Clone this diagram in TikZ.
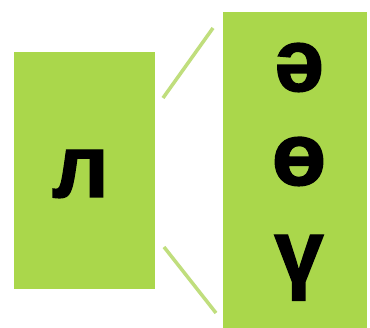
\documentclass[tikz,border=0pt]{standalone}
\usepackage{fontspec}
\setmainfont{Liberation Sans}
\newfontfamily\cardfont{Liberation Sans Bold}[FakeBold=1.6]
\definecolor{cardgreen}{RGB}{170,215,75}
\definecolor{linegreen}{RGB}{192,222,125}

\begin{document}
\begin{tikzpicture}[x=1pt,y=-1pt,
  card/.style={fill=cardgreen, inner sep=0pt, anchor=north west},
  letter/.style={font=\cardfont\fontsize{89}{89}\selectfont, inner sep=0pt, anchor=base},
  link/.style={draw=linegreen, line width=3.5pt}]
\useasboundingbox (0,0) rectangle (370,328);
\fill[white] (0,0) rectangle (370,328);

% Cards
\node[card, minimum width=141pt, minimum height=237pt] (lbox) at (14,52) {};
\node[card, minimum width=144pt, minimum height=316pt] (rbox) at (223,12) {};

% Letters
\node[letter] (el) at (80.5,197) {л};
\node[letter] (schwa) at (299,91) {ә};
\node[letter] (barredo) at (299,185) {ө};
\node[letter] (straightu) at (299,282) {ү};

% Links
\coordinate (upA) at (163,98);
\coordinate (upB) at (213,28);
\coordinate (loA) at (164,247);
\coordinate (loB) at (216,313);
\draw[link] (upA) -- (upB);
\draw[link] (loA) -- (loB);

\end{tikzpicture}
\end{document}
